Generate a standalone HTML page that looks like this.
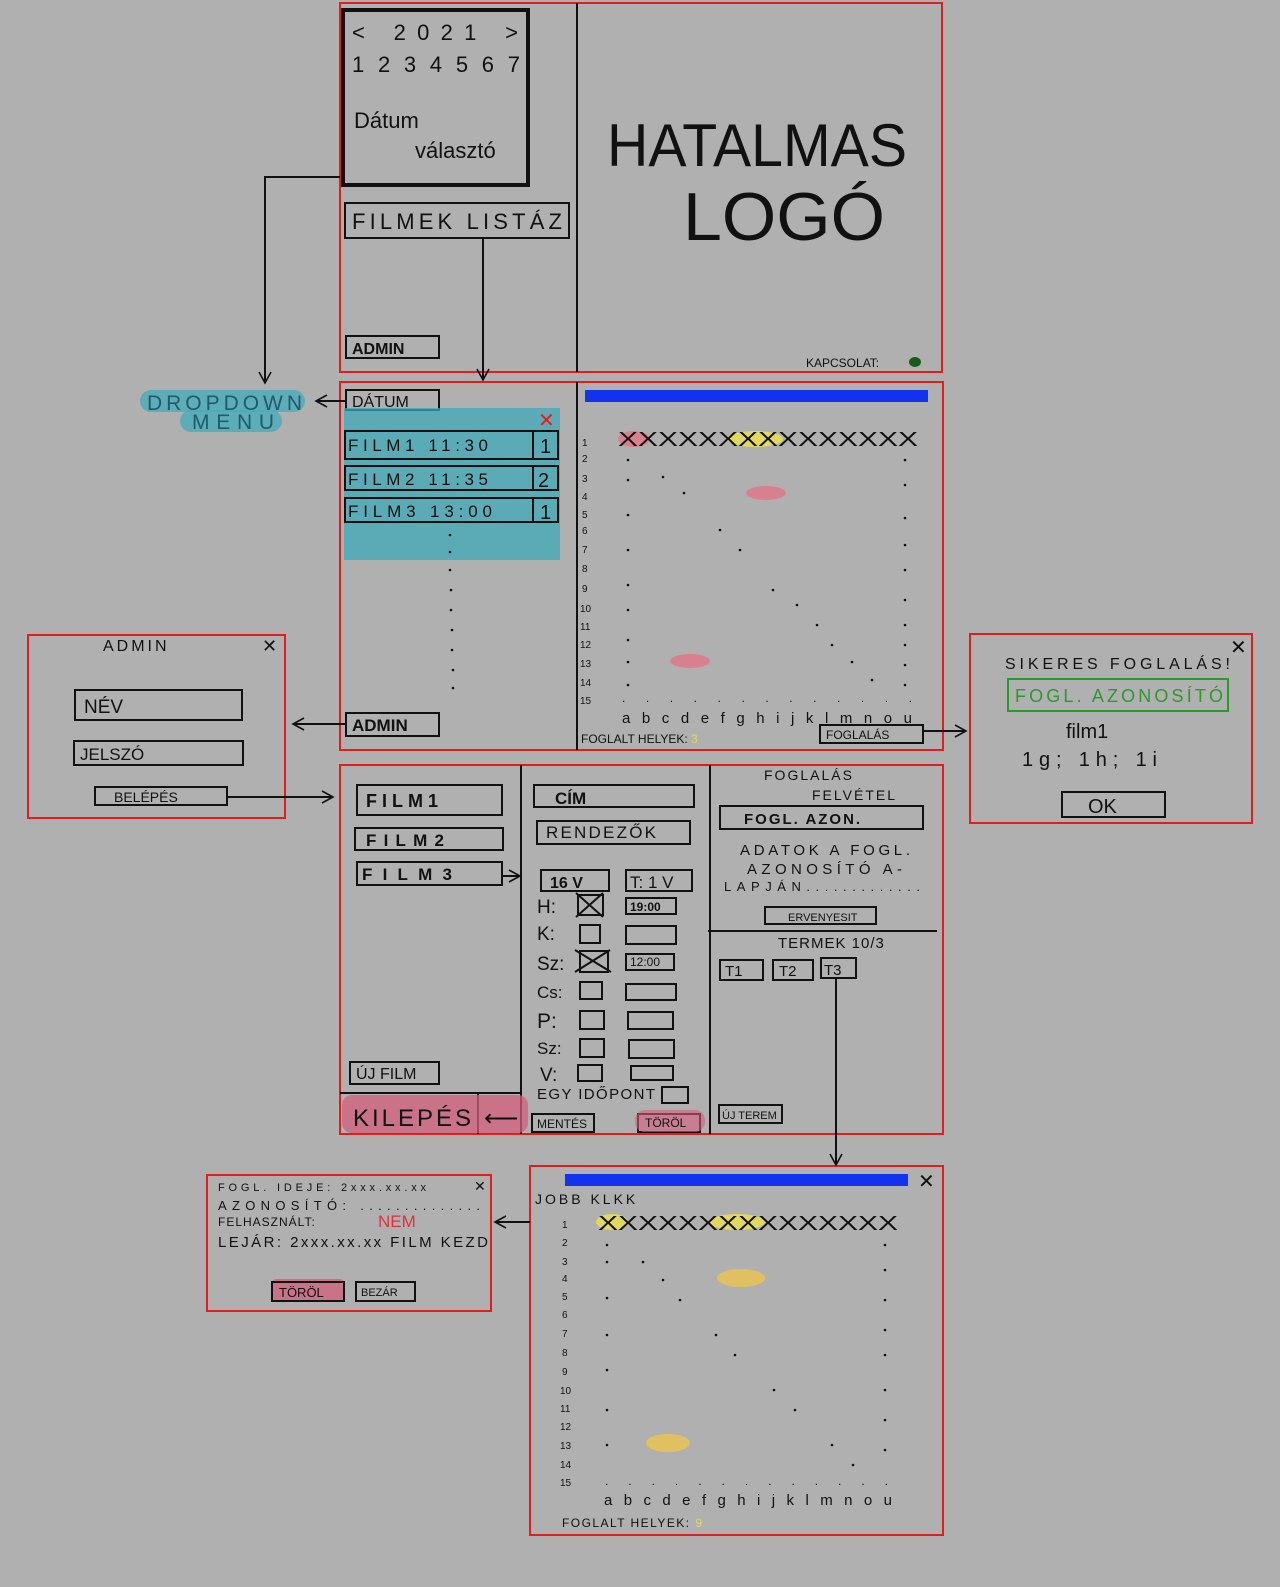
<!DOCTYPE html>
<html><head><meta charset="utf-8"><style>
html,body{margin:0;padding:0;background:#b1b0b1;}
svg{display:block}
text{font-family:"Liberation Sans",sans-serif;fill:#111}
</style></head><body>
<svg width="1280" height="1587" viewBox="0 0 1280 1587" xmlns="http://www.w3.org/2000/svg">
<defs><marker id="a" markerWidth="14" markerHeight="14" refX="12" refY="7" orient="auto" markerUnits="userSpaceOnUse"><path d="M1,1 L12,7 L1,13" fill="none" stroke="#111" stroke-width="1.6"/></marker></defs>
<rect width="1280" height="1587" fill="#b1b0b1"/>
<g fill="none" stroke="#e01e1e" stroke-width="2">
<rect x="340" y="3" width="602" height="369"/>
<rect x="340" y="382" width="603" height="368"/>
<rect x="340" y="765" width="603" height="369"/>
<rect x="28" y="635" width="257" height="183"/>
<rect x="970" y="634" width="282" height="189"/>
<rect x="530" y="1166" width="413" height="369"/>
<rect x="207" y="1175" width="284" height="136"/>
</g>
<g stroke="#111" stroke-width="2" fill="none">
<line x1="577" y1="3" x2="577" y2="372"/>
<line x1="577" y1="382" x2="577" y2="750"/>
<line x1="521" y1="765" x2="521" y2="1134"/>
<line x1="710" y1="765" x2="710" y2="1134"/>
<line x1="708" y1="931" x2="937" y2="931"/>
<rect x="343" y="10" width="185" height="175" stroke-width="4"/>
<rect x="345" y="203" width="224" height="35"/>
<rect x="346" y="336" width="93" height="22"/>
<rect x="346" y="390" width="93" height="20"/>
<rect x="346" y="713" width="93" height="23"/>
<polyline points="340,177 265,177 265,383" marker-end="url(#a)"/>
<line x1="483" y1="238" x2="483" y2="380" marker-end="url(#a)"/>
<line x1="346" y1="401" x2="316" y2="401" marker-end="url(#a)"/>
<line x1="346" y1="724" x2="293" y2="724" marker-end="url(#a)"/>
<line x1="227" y1="797" x2="333" y2="797" marker-end="url(#a)"/>
<line x1="923" y1="731" x2="966" y2="731" marker-end="url(#a)"/>
<line x1="836" y1="978" x2="836" y2="1165" marker-end="url(#a)"/>
<line x1="530" y1="1222" x2="495" y2="1222" marker-end="url(#a)"/>
<line x1="502" y1="876" x2="520" y2="876" marker-end="url(#a)"/>
</g>
<!-- date picker -->
<text x="352" y="40" font-size="22" textLength="166" lengthAdjust="spacing">&lt;   2021   &gt;</text>
<text x="352" y="72" font-size="22" textLength="168" lengthAdjust="spacing">1234567</text>
<text x="354" y="128" font-size="22">Dátum</text>
<text x="415" y="158" font-size="22">választó</text>
<text x="352" y="229" font-size="22" textLength="210" lengthAdjust="spacing">FILMEK LISTÁZ</text>
<text x="352" y="354" font-size="16" font-weight="bold">ADMIN</text>
<text x="607" y="166" font-size="60" font-weight="300" textLength="300" lengthAdjust="spacingAndGlyphs">HATALMAS</text>
<text x="683" y="240" font-size="68" textLength="202" lengthAdjust="spacingAndGlyphs">LOGÓ</text>
<text x="806" y="367" font-size="12">KAPCSOLAT:</text>
<ellipse cx="915" cy="362" rx="6" ry="5" fill="#1a5a1a"/>
<!-- dropdown -->
<rect x="140" y="390" width="165" height="22" rx="11" fill="#4aabb9" opacity=".8"/>
<rect x="180" y="410" width="102" height="22" rx="11" fill="#4aabb9" opacity=".8"/>
<text x="147" y="410" font-size="21" style="fill:#1c5c6c" textLength="155" lengthAdjust="spacing">DROPDOWN</text>
<text x="192" y="429" font-size="21" style="fill:#1c5c6c" textLength="82" lengthAdjust="spacing">MENU</text>
<text x="352" y="407" font-size="16">DÁTUM</text>
<rect x="344" y="408" width="216" height="152" fill="#3fa9b8" opacity=".75"/>
<text x="538" y="427" font-size="20" style="fill:#e01e1e">✕</text>
<g fill="none" stroke="#111" stroke-width="2">
<rect x="345" y="431" width="213" height="28"/><line x1="533" y1="431" x2="533" y2="459"/>
<rect x="345" y="466" width="213" height="24"/><line x1="533" y1="466" x2="533" y2="490"/>
<rect x="345" y="498" width="213" height="24"/><line x1="533" y1="498" x2="533" y2="522"/>
</g>
<text x="348" y="451" font-size="17" textLength="140" lengthAdjust="spacing">FILM1   11:30</text><text x="540" y="453" font-size="20">1</text>
<text x="348" y="485" font-size="17" textLength="140" lengthAdjust="spacing">FILM2   11:35</text><text x="538" y="487" font-size="20">2</text>
<text x="348" y="517" font-size="17" textLength="144" lengthAdjust="spacing">FILM3   13:00</text><text x="540" y="519" font-size="20">1</text>
<g fill="#111"><circle cx="450" cy="535" r="1.3"/><circle cx="450" cy="552" r="1.3"/><circle cx="450" cy="570" r="1.3"/><circle cx="451" cy="590" r="1.3"/><circle cx="451" cy="610" r="1.3"/><circle cx="452" cy="630" r="1.3"/><circle cx="452" cy="650" r="1.3"/><circle cx="453" cy="670" r="1.3"/><circle cx="453" cy="688" r="1.3"/></g>
<text x="352" y="731" font-size="17" font-weight="bold">ADMIN</text>
<!-- seat grid 1 -->
<rect x="585" y="390" width="343" height="12" fill="#1133ee"/>
<ellipse cx="634" cy="439" rx="16" ry="8" fill="#d88090"/>
<ellipse cx="755" cy="439" rx="28" ry="8" fill="#e0d860"/>
<ellipse cx="766" cy="493" rx="20" ry="7" fill="#d88090"/>
<ellipse cx="690" cy="661" rx="20" ry="7" fill="#d88090"/>
<text x="618" y="446" font-size="20" textLength="300" lengthAdjust="spacingAndGlyphs">XXXXXXXXXXXXXXX</text>
<text x="582" y="446" font-size="10">1</text>
<g font-size="10"><text x="582" y="462">2</text><text x="582" y="482">3</text><text x="582" y="500">4</text><text x="582" y="518">5</text><text x="582" y="534">6</text><text x="582" y="553">7</text><text x="582" y="572">8</text><text x="582" y="592">9</text><text x="580" y="612">10</text><text x="580" y="630">11</text><text x="580" y="648">12</text><text x="580" y="667">13</text><text x="580" y="686">14</text><text x="580" y="704">15</text></g>
<g fill="#111"><circle cx="628" cy="460" r="1.3"/><circle cx="628" cy="480" r="1.3"/><circle cx="628" cy="515" r="1.3"/><circle cx="628" cy="550" r="1.3"/><circle cx="628" cy="585" r="1.3"/><circle cx="628" cy="610" r="1.3"/><circle cx="628" cy="640" r="1.3"/><circle cx="628" cy="662" r="1.3"/><circle cx="628" cy="685" r="1.3"/>
<circle cx="905" cy="460" r="1.3"/><circle cx="905" cy="485" r="1.3"/><circle cx="905" cy="518" r="1.3"/><circle cx="905" cy="545" r="1.3"/><circle cx="905" cy="570" r="1.3"/><circle cx="905" cy="600" r="1.3"/><circle cx="905" cy="625" r="1.3"/><circle cx="905" cy="645" r="1.3"/><circle cx="905" cy="665" r="1.3"/><circle cx="905" cy="685" r="1.3"/>
<circle cx="663" cy="477" r="1.3"/><circle cx="684" cy="493" r="1.3"/><circle cx="720" cy="530" r="1.3"/><circle cx="740" cy="550" r="1.3"/><circle cx="773" cy="590" r="1.3"/><circle cx="797" cy="605" r="1.3"/><circle cx="817" cy="625" r="1.3"/><circle cx="832" cy="645" r="1.3"/><circle cx="852" cy="662" r="1.3"/><circle cx="872" cy="680" r="1.3"/></g>
<text x="622" y="702" font-size="12" textLength="290" lengthAdjust="spacing">.............</text>
<text x="622" y="723" font-size="15" textLength="290" lengthAdjust="spacing">abcdefghijklmnou</text>
<text x="581" y="743" font-size="12">FOGLALT HELYEK: <tspan style="fill:#e0d860">3</tspan></text>
<rect x="820" y="725" width="103" height="18" fill="none" stroke="#111" stroke-width="2"/>
<text x="826" y="739" font-size="12">FOGLALÁS</text>
<!-- admin login -->
<text x="103" y="651" font-size="16" letter-spacing="3">ADMIN</text><text x="262" y="652" font-size="18">✕</text>
<g fill="none" stroke="#111" stroke-width="2"><rect x="75" y="690" width="167" height="30"/><rect x="74" y="741" width="169" height="24"/><rect x="95" y="787" width="132" height="18"/></g>
<text x="84" y="713" font-size="19">NÉV</text><text x="80" y="760" font-size="17">JELSZÓ</text><text x="114" y="802" font-size="14">BELÉPÉS</text>
<!-- success -->
<text x="1230" y="654" font-size="20">✕</text>
<text x="1005" y="669" font-size="16" textLength="225" lengthAdjust="spacing">SIKERES FOGLALÁS!</text>
<rect x="1008" y="679" width="220" height="32" fill="none" stroke="#2a9a2a" stroke-width="2"/>
<text x="1015" y="702" font-size="18" style="fill:#2a9a2a" textLength="208" lengthAdjust="spacing">FOGL. AZONOSÍTÓ</text>
<text x="1066" y="738" font-size="20">film1</text>
<text x="1022" y="766" font-size="20" textLength="135" lengthAdjust="spacing">1g; 1h; 1i</text>
<rect x="1062" y="792" width="103" height="25" fill="none" stroke="#111" stroke-width="2"/>
<text x="1088" y="813" font-size="20">OK</text>
<!-- third box left -->
<g fill="none" stroke="#111" stroke-width="2">
<rect x="357" y="785" width="145" height="30"/><rect x="355" y="828" width="148" height="22"/><rect x="357" y="862" width="145" height="23"/>
<rect x="350" y="1062" width="89" height="22"/><line x1="478" y1="1093" x2="478" y2="1134"/><line x1="340" y1="1093" x2="521" y2="1093"/>
</g>
<text x="366" y="807" font-size="18" font-weight="bold" textLength="72" lengthAdjust="spacing">FILM1</text><text x="366" y="846" font-size="17" font-weight="bold" textLength="78" lengthAdjust="spacing">FILM2</text><text x="362" y="880" font-size="17" font-weight="bold" textLength="90" lengthAdjust="spacing">FILM3</text>
<text x="356" y="1079" font-size="16">ÚJ FILM</text>
<rect x="342" y="1095" width="186" height="38" rx="10" fill="#d35e7a" opacity=".75"/>
<text x="353" y="1126" font-size="24" textLength="118" lengthAdjust="spacing">KILEPÉS</text>
<text x="484" y="1126" font-size="24">⟵</text>
<!-- middle -->
<g fill="none" stroke="#111" stroke-width="2">
<rect x="534" y="785" width="160" height="22"/><rect x="537" y="821" width="153" height="23"/>
<rect x="541" y="870" width="68" height="21"/><rect x="626" y="870" width="66" height="21"/>
<rect x="578" y="895" width="25" height="20"/><line x1="576" y1="893" x2="603" y2="917"/><line x1="603" y1="893" x2="576" y2="917"/>
<rect x="580" y="925" width="20" height="18"/>
<rect x="580" y="951" width="28" height="21"/><line x1="575" y1="950" x2="611" y2="972"/><line x1="610" y1="950" x2="575" y2="972"/>
<rect x="580" y="982" width="22" height="17"/><rect x="580" y="1011" width="24" height="18"/><rect x="580" y="1039" width="24" height="18"/><rect x="578" y="1065" width="24" height="16"/>
<rect x="626" y="898" width="50" height="16"/><rect x="626" y="926" width="50" height="18"/><rect x="626" y="954" width="48" height="16"/><rect x="626" y="984" width="50" height="16"/><rect x="628" y="1012" width="45" height="17"/><rect x="629" y="1040" width="45" height="18"/><rect x="631" y="1066" width="42" height="14"/>
<rect x="662" y="1087" width="26" height="16"/>
<rect x="532" y="1114" width="62" height="18"/><rect x="638" y="1114" width="62" height="18"/>
</g>
<text x="555" y="804" font-size="17" font-weight="bold">CÍM</text><text x="546" y="838" font-size="17" textLength="110" lengthAdjust="spacing">RENDEZŐK</text>
<text x="550" y="888" font-size="16" font-weight="bold">16  V</text><text x="630" y="888" font-size="17">T: 1 V</text>
<text x="537" y="913" font-size="19">H:</text><text x="537" y="940" font-size="19">K:</text><text x="537" y="970" font-size="19">Sz:</text><text x="537" y="998" font-size="17">Cs:</text><text x="537" y="1028" font-size="21">P:</text><text x="537" y="1054" font-size="17">Sz:</text><text x="540" y="1081" font-size="19">V:</text>
<text x="630" y="911" font-size="12" font-weight="bold">19:00</text><text x="630" y="966" font-size="12">12:00</text>
<text x="537" y="1099" font-size="15" textLength="118" lengthAdjust="spacing">EGY IDŐPONT</text>
<rect x="635" y="1110" width="70" height="22" rx="10" fill="#d35e7a" opacity=".6"/>
<text x="537" y="1128" font-size="12">MENTÉS</text><text x="645" y="1127" font-size="12">TÖRÖL</text>
<!-- right col -->
<text x="764" y="780" font-size="14" letter-spacing="2">FOGLALÁS</text><text x="812" y="800" font-size="14" letter-spacing="2">FELVÉTEL</text>
<rect x="720" y="806" width="203" height="23" fill="none" stroke="#111" stroke-width="2"/>
<text x="744" y="824" font-size="15" font-weight="bold" letter-spacing="2">FOGL. AZON.</text>
<text x="740" y="855" font-size="15" textLength="170" lengthAdjust="spacing">ADATOK A FOGL.</text>
<text x="747" y="874" font-size="15" textLength="155" lengthAdjust="spacing">AZONOSÍTÓ A-</text>
<text x="724" y="891" font-size="13" textLength="196" lengthAdjust="spacing">LAPJÁN.............</text>
<rect x="765" y="907" width="111" height="17" fill="none" stroke="#111" stroke-width="2"/><text x="788" y="921" font-size="11">ERVENYESIT</text>
<text x="778" y="948" font-size="15" letter-spacing="1">TERMEK 10/3</text>
<g fill="none" stroke="#111" stroke-width="2"><rect x="720" y="960" width="43" height="20"/><rect x="773" y="960" width="40" height="20"/><rect x="821" y="958" width="35" height="20"/><rect x="719" y="1105" width="63" height="18"/></g>
<text x="725" y="976" font-size="15">T1</text><text x="779" y="976" font-size="15">T2</text><text x="824" y="975" font-size="15">T3</text>
<text x="722" y="1119" font-size="11">ÚJ TEREM</text>
<!-- bottom grid -->
<rect x="565" y="1174" width="343" height="12" fill="#1133ee"/>
<text x="918" y="1188" font-size="20">✕</text>
<text x="535" y="1204" font-size="14" letter-spacing="3">JOBB KLKK</text>
<ellipse cx="612" cy="1222" rx="16" ry="8" fill="#e0d860"/><ellipse cx="737" cy="1222" rx="28" ry="8" fill="#e0d860"/>
<ellipse cx="741" cy="1278" rx="24" ry="9" fill="#e0c060"/><ellipse cx="668" cy="1443" rx="22" ry="9" fill="#e0c060"/>
<text x="598" y="1230" font-size="20" textLength="300" lengthAdjust="spacingAndGlyphs">XXXXXXXXXXXXXXX</text>
<g font-size="10"><text x="562" y="1228">1</text><text x="562" y="1246">2</text><text x="562" y="1265">3</text><text x="562" y="1282">4</text><text x="562" y="1300">5</text><text x="562" y="1318">6</text><text x="562" y="1337">7</text><text x="562" y="1356">8</text><text x="562" y="1375">9</text><text x="560" y="1394">10</text><text x="560" y="1412">11</text><text x="560" y="1430">12</text><text x="560" y="1449">13</text><text x="560" y="1468">14</text><text x="560" y="1486">15</text></g>
<g fill="#111"><circle cx="607" cy="1245" r="1.3"/><circle cx="607" cy="1262" r="1.3"/><circle cx="607" cy="1298" r="1.3"/><circle cx="607" cy="1335" r="1.3"/><circle cx="607" cy="1370" r="1.3"/><circle cx="607" cy="1410" r="1.3"/><circle cx="607" cy="1445" r="1.3"/><circle cx="885" cy="1245" r="1.3"/><circle cx="885" cy="1270" r="1.3"/><circle cx="885" cy="1300" r="1.3"/><circle cx="885" cy="1330" r="1.3"/><circle cx="885" cy="1355" r="1.3"/><circle cx="885" cy="1390" r="1.3"/><circle cx="885" cy="1420" r="1.3"/><circle cx="885" cy="1450" r="1.3"/><circle cx="643" cy="1262" r="1.3"/><circle cx="663" cy="1280" r="1.3"/><circle cx="680" cy="1300" r="1.3"/><circle cx="716" cy="1335" r="1.3"/><circle cx="735" cy="1355" r="1.3"/><circle cx="774" cy="1390" r="1.3"/><circle cx="795" cy="1410" r="1.3"/><circle cx="832" cy="1445" r="1.3"/><circle cx="853" cy="1465" r="1.3"/></g>
<text x="605" y="1485" font-size="12" textLength="283" lengthAdjust="spacing">.............</text>
<text x="604" y="1505" font-size="15" textLength="288" lengthAdjust="spacing">abcdefghijklmnou</text>
<text x="562" y="1527" font-size="12" textLength="140" lengthAdjust="spacing">FOGLALT HELYEK: <tspan style="fill:#e0d860">9</tspan></text>
<!-- reservation detail -->
<text x="218" y="1191" font-size="11" textLength="208" lengthAdjust="spacing">FOGL. IDEJE:  2xxx.xx.xx</text><text x="474" y="1191" font-size="14">✕</text>
<text x="218" y="1210" font-size="13" textLength="262" lengthAdjust="spacing">AZONOSÍTÓ: ..............</text>
<text x="218" y="1226" font-size="12" letter-spacing="1">FELHASZNÁLT:</text><text x="378" y="1227" font-size="17" style="fill:#e0303a">NEM</text>
<text x="218" y="1247" font-size="15" textLength="270" lengthAdjust="spacing">LEJÁR: 2xxx.xx.xx   FILM KEZD</text>
<rect x="272" y="1279" width="72" height="22" rx="4" fill="#d35e7a" opacity=".75"/>
<g fill="none" stroke="#111" stroke-width="2"><rect x="272" y="1282" width="72" height="19"/><rect x="356" y="1282" width="59" height="19"/></g>
<text x="279" y="1297" font-size="13">TÖRÖL</text><text x="361" y="1296" font-size="11">BEZÁR</text>
</svg>
</body></html>
